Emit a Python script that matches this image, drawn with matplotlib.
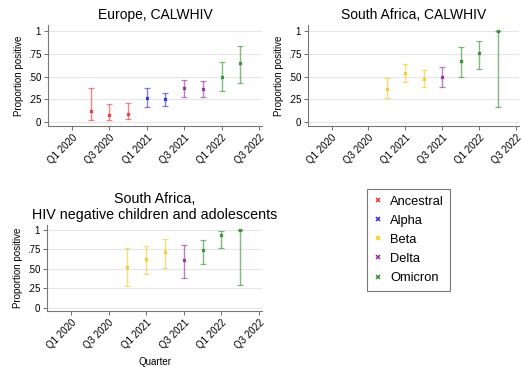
import matplotlib
matplotlib.use("Agg")
import matplotlib.pyplot as plt
from matplotlib.lines import Line2D

# quarter index: 0 = Q1 2020 ... 10 = Q3 2022
tick_pos = [0, 2, 4, 6, 8, 10]
tick_labels = ["Q1 2020", "Q3 2020", "Q1 2021", "Q3 2021", "Q1 2022", "Q3 2022"]

variants = ["Ancestral", "Alpha", "Beta", "Delta", "Omicron"]
colors = {"Ancestral": "#e8333b", "Alpha": "#2b2bd9", "Beta": "#f2c81e",
          "Delta": "#8e2a9e", "Omicron": "#2e8b2e"}

# Europe, CALWHIV
eu_q = [1, 2, 3, 4, 5, 6, 7, 8, 9]
eu_var = ["Ancestral", "Ancestral", "Ancestral", "Alpha", "Alpha", "Delta", "Delta", "Omicron", "Omicron"]
eu_p = [0.12, 0.08, 0.09, 0.26, 0.25, 0.37, 0.36, 0.50, 0.65]
eu_lo = [0.02, 0.02, 0.03, 0.17, 0.18, 0.28, 0.27, 0.34, 0.43]
eu_hi = [0.37, 0.20, 0.21, 0.37, 0.32, 0.46, 0.45, 0.66, 0.84]

# South Africa, CALWHIV
sa_q = [3, 4, 5, 6, 7, 8, 9]
sa_var = ["Beta", "Beta", "Beta", "Delta", "Omicron", "Omicron", "Omicron"]
sa_p = [0.36, 0.54, 0.47, 0.49, 0.67, 0.76, 1.00]
sa_lo = [0.26, 0.44, 0.38, 0.39, 0.50, 0.58, 0.16]
sa_hi = [0.48, 0.64, 0.57, 0.60, 0.82, 0.89, 1.00]

# South Africa, HIV negative
neg_q = [3, 4, 5, 6, 7, 8, 9]
neg_var = ["Beta", "Beta", "Beta", "Delta", "Omicron", "Omicron", "Omicron"]
neg_p = [0.52, 0.63, 0.72, 0.61, 0.74, 0.93, 1.00]
neg_lo = [0.28, 0.44, 0.51, 0.39, 0.56, 0.77, 0.30]
neg_hi = [0.77, 0.80, 0.88, 0.81, 0.87, 0.99, 1.00]

W, H = 522, 367


def panel(rect_px, ylim, title, q, var, p, lo, hi, title_size=10):
    l, t, r, b = rect_px
    ax = fig.add_axes([l / W, 1 - b / H, (r - l) / W, (b - t) / H])
    for qi, v, pi, lw, hw in zip(q, var, p, lo, hi):
        c = colors[v]
        ax.errorbar(qi, pi, yerr=[[pi - lw], [hw - pi]], fmt="none", ecolor=c,
                    alpha=0.6, elinewidth=1.0, capsize=2, capthick=0.9)
        ax.plot(qi, pi, marker="x", ms=2, mew=0.9, color=c, ls="none")
    ax.set_xlim(-1.28, 10.16)
    ax.set_ylim(*ylim)
    ax.set_yticks([0, 0.25, 0.5, 0.75, 1])
    ax.set_yticklabels(["0", ".25", ".50", ".75", "1"], fontsize=7)
    ax.set_xticks(tick_pos)
    ax.set_xticklabels(tick_labels, fontsize=7, rotation=45, ha="right",
                       rotation_mode="anchor")
    ax.tick_params(axis="both", length=3, width=0.6, color="#555555", pad=2)
    ax.grid(axis="y", color="#e6e6e6", lw=0.8)
    ax.set_axisbelow(True)
    for s in ["top", "right"]:
        ax.spines[s].set_visible(False)
    for s in ["left", "bottom"]:
        ax.spines[s].set_color("#777777")
        ax.spines[s].set_linewidth(0.8)
    ax.set_ylabel("Proportion positive", fontsize=7, labelpad=3)
    ax.set_title(title, fontsize=title_size, pad=4)
    return ax


fig = plt.figure(figsize=(W / 100, H / 100), dpi=100)
plt.rcParams["font.family"] = ["Liberation Sans", "DejaVu Sans"]

panel((48, 25, 262, 126), (-0.044, 1.066), "Europe, CALWHIV",
      eu_q, eu_var, eu_p, eu_lo, eu_hi)
panel((308, 25, 519, 126), (-0.044, 1.066), "South Africa, CALWHIV",
      sa_q, sa_var, sa_p, sa_lo, sa_hi)
panel((47, 225, 262, 311), (-0.04, 1.064),
      "South Africa,\nHIV negative children and adolescents",
      neg_q, neg_var, neg_p, neg_lo, neg_hi, title_size=10.3)
fig.text(155 / W, 1 - 362 / H, "Quarter", fontsize=7, ha="center", va="center")

handles = [Line2D([], [], marker="x", ls="none", ms=3.5, mew=1.1, color=colors[v])
           for v in variants]
leg = fig.legend(handles, variants, loc="upper left",
                 bbox_to_anchor=(367 / W, 1 - 189 / H), borderaxespad=0,
                 fontsize=9.3, frameon=True, fancybox=False, handlelength=0.7,
                 handletextpad=0.6, labelspacing=0.55, borderpad=0.5)
leg.get_frame().set_edgecolor("#555555")
leg.get_frame().set_linewidth(0.8)

fig.savefig("out.png", dpi=100)
